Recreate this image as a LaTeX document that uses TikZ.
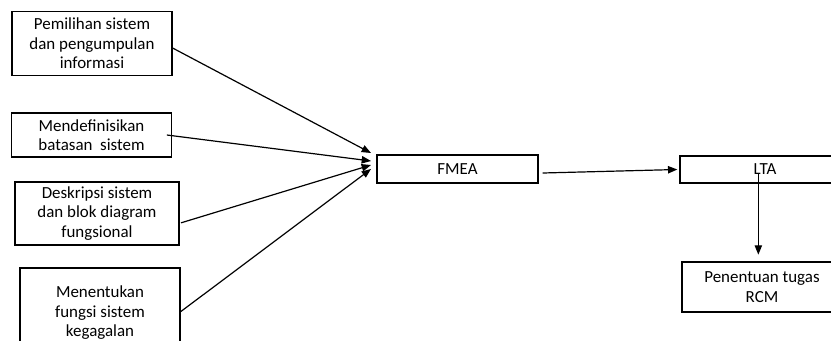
\documentclass[tikz,border=0pt]{standalone}
\usepackage{fontspec}
\setmainfont{Carlito}
\usetikzlibrary{arrows.meta}
\tikzstyle{module} = [rectangle, draw=black, line width=1pt, align=center, inner sep=0pt, font=\fontsize{12.7}{14.6}\selectfont]
\tikzstyle{flow} = [-{Triangle[length=7pt, width=5.5pt]}, line width=0.9pt]

\begin{document}
\begin{tikzpicture}[x=0.75pt, y=-0.75pt]
    \clip (0,0) rectangle (831,340);
    \tikzstyle{input} = [module, minimum width=120pt]

    \node[input, minimum height=48pt] (pemilihan) at (92,43.5) {Pemilihan sistem\\dan pengumpulan\\informasi};
    \node[input, minimum height=33pt] (batasan) at (91.5,135) {Mendefinisikan\\batasan\ \ sistem};
    \node[input, minimum width=123pt, minimum height=47.25pt] (deskripsi) at (97,213.5) {Deskripsi sistem\\dan blok diagram\\fungsional};
    \node[input, minimum height=67.5pt] (fungsi) at (100,313) {Menentukan\\fungsi sistem\\kegagalan};

    \node[module, minimum width=120.75pt, minimum height=21pt] (fmea) at (457.5,169) {FMEA};
    \node[module, minimum width=127.5pt, minimum height=20.25pt] (lta) at (765,169.5) {LTA};
    \node[module, minimum width=120pt, minimum height=37.5pt] (tugas) at (762,287) {Penentuan tugas\\RCM};

    % inputs into FMEA
    \draw[flow] ([yshift=-3.4pt]pemilihan.east) -- ([xshift=-4pt, yshift=12pt]fmea.west);
    \draw[flow] ([xshift=-4pt]batasan.east) -- ([xshift=-4pt, yshift=6pt]fmea.west);
    \draw[flow] ([xshift=1pt, yshift=-7pt]deskripsi.east) -- ([xshift=-4pt, yshift=3pt]fmea.west);
    \draw[flow] ([yshift=1pt]fungsi.east) -- ([xshift=-4pt]fmea.west);

    \draw[flow] ([xshift=3pt, yshift=-3pt]fmea.east) -- ([xshift=-1.5pt]lta.west);
    \coordinate (ltaDrop) at ([xshift=-5pt, yshift=-3pt]lta.center);
    \draw[flow, shorten >=5pt] (ltaDrop) -- (ltaDrop |- tugas.north);
\end{tikzpicture}
\end{document}
